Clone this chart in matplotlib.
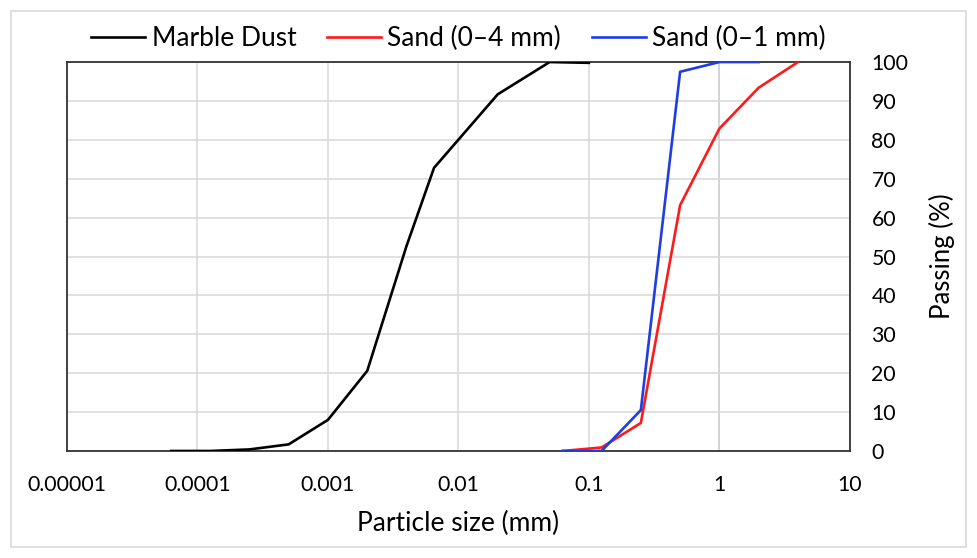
import matplotlib
matplotlib.use('Agg')
import matplotlib.pyplot as plt
from matplotlib.patches import Rectangle

plt.rcParams['font.family'] = ['Lato', 'DejaVu Sans']

# sieve sizes (mm) and % passing
marble_x = [6.3e-5, 1.25e-4, 2.5e-4, 5e-4, 1e-3, 2e-3, 4e-3, 6.5e-3, 2e-2, 5e-2, 1e-1]
marble_y = [0, 0, 0.4, 1.7, 8.0, 20.6, 52.7, 72.8, 91.7, 100, 99.8]

sand4_x = [0.063, 0.125, 0.25, 0.5, 1, 2, 4]
sand4_y = [0, 0.9, 7.2, 63.2, 82.9, 93.4, 100]

sand1_x = [0.063, 0.125, 0.25, 0.5, 1, 2]
sand1_y = [0, 0, 10.5, 97.5, 100, 100]

xticks = [1e-5, 1e-4, 1e-3, 1e-2, 1e-1, 1, 10]
xlabels = ['0.00001', '0.0001', '0.001', '0.01', '0.1', '1', '10']
yticks = list(range(0, 101, 10))

fig = plt.figure(figsize=(9.78, 5.58), dpi=100)
ax = fig.add_axes([0.0685, 0.1918, 0.8005, 0.697])

ax.plot(marble_x, marble_y, color='black', lw=1.9, label='Marble Dust', zorder=3)
ax.plot(sand4_x, sand4_y, color='#ff1a1a', lw=1.9, label='Sand (0\u20134 mm)', zorder=3)
ax.plot(sand1_x, sand1_y, color='#1f3de0', lw=1.9, label='Sand (0\u20131 mm)', zorder=4)

ax.set_xscale('log')
ax.set_xlim(1e-5, 10)
ax.set_ylim(0, 100)
ax.set_xticks(xticks)
ax.set_xticklabels(xlabels)
ax.minorticks_off()
ax.set_yticks(yticks)
ax.yaxis.tick_right()
ax.yaxis.set_label_position('right')
ax.tick_params(length=0, labelsize=15.3, colors='black')
ax.tick_params(axis='x', pad=17)
ax.tick_params(axis='y', pad=15.5)

ax.grid(True, color='#d9d9d9', lw=1.1, zorder=0)
ax.axvline(1, color='#bfbfbf', lw=1.3, zorder=1)
for s in ax.spines.values():
    s.set_color('#333333')
    s.set_linewidth(1.3)

ax.set_xlabel('Particle size (mm)', fontsize=19, labelpad=12)
ax.set_ylabel('Passing (%)', fontsize=18.5, labelpad=15)

ax.legend(loc='lower center', bbox_to_anchor=(0.5, 1.0), ncol=3, frameon=False,
          fontsize=19, handlelength=2.05, columnspacing=1.15, handletextpad=0.25,
          borderaxespad=0.0)

fig.patches.append(Rectangle((11 / 978, 11 / 558), 955 / 978, 536 / 558,
                             transform=fig.transFigure, fill=False,
                             edgecolor='#d9d9d9', lw=1.2))

fig.savefig('out.png', dpi=100)
